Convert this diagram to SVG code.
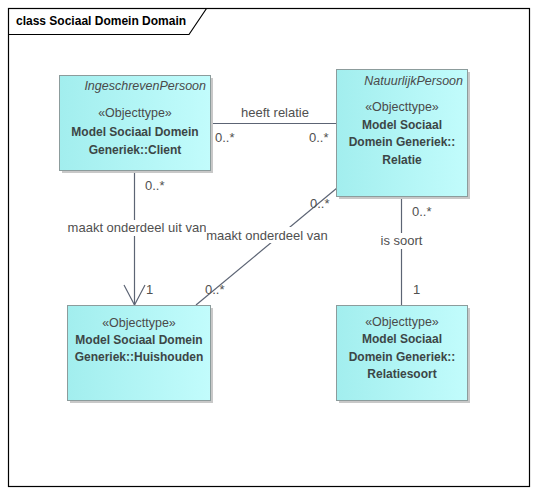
<svg xmlns="http://www.w3.org/2000/svg" width="537" height="495" viewBox="0 0 537 495">
<style>
text{font-family:"Liberation Sans","DejaVu Sans",sans-serif;font-size:12.5px;fill:#4a4a4a}
.b{font-weight:bold;font-size:12px;fill:#3c4646}
.i{font-style:italic;fill:#4a4a4a}
.m{text-anchor:middle}
.e{text-anchor:end}
.c{font-size:13px;fill:#505050}
.box{fill:url(#g);stroke:#8c9c9c;stroke-width:1}
.sh{fill:#c8c8c8}
.ln{stroke:#5c6474;stroke-width:1.2;fill:none}
.lbg{fill:#ffffff}
</style>
<defs>
<linearGradient id="g" x1="0" y1="0" x2="1" y2="0">
<stop offset="0" stop-color="#a2eeee"/>
<stop offset="1" stop-color="#c2fcfc"/>
</linearGradient>
</defs>
<rect width="537" height="495" fill="#ffffff"/>
<g id="frame">
<rect x="8.5" y="8.5" width="521" height="478" fill="none" stroke="#000" stroke-width="1.2"/>
<path d="M8.5 34.5 H189 L206.5 8.5" fill="none" stroke="#000" stroke-width="1.2"/>
<text x="16" y="25" style="font-weight:bold;font-size:12px;fill:#000">class Sociaal Domein Domain</text>
</g>
<g id="connectors">
<line class="ln" x1="210" y1="123.5" x2="336" y2="123.5"/>
<line class="ln" x1="134.5" y1="170" x2="134.5" y2="305"/>
<path class="ln" d="M124 285 L134.5 305 L145 285"/>
<line class="ln" x1="196" y1="305" x2="337" y2="188"/>
<line class="ln" x1="401.5" y1="196" x2="401.5" y2="305"/>
<text class="m c" x="275" y="117">heeft relatie</text>
<text class="c" x="215" y="142">0..*</text>
<text class="c" x="309" y="142">0..*</text>
<rect class="lbg" x="68" y="220" width="138" height="16"/>
<text class="m c" x="137" y="232">maakt onderdeel uit van</text>
<text class="c" x="145" y="190">0..*</text>
<text class="c" x="146" y="294">1</text>
<rect class="lbg" x="206" y="227" width="124" height="16"/>
<text class="m c" x="267" y="240">maakt onderdeel van</text>
<text class="c" x="310" y="208">0..*</text>
<text class="c" x="205" y="294">0..*</text>
<rect class="lbg" x="379" y="233" width="46" height="16"/>
<text class="m c" x="401.5" y="245">is soort</text>
<text class="c" x="412" y="216">0..*</text>
<text class="c" x="413" y="294">1</text>
</g>
<g id="client">
<rect class="sh" x="62" y="78" width="151" height="95"/>
<rect class="box" x="59.5" y="75.5" width="151" height="95"/>
<text class="i e" x="206" y="90">IngeschrevenPersoon</text>
<text class="m" x="135" y="117">«Objecttype»</text>
<text class="b m" x="135" y="136">Model Sociaal Domein</text>
<text class="b m" x="135" y="154">Generiek::Client</text>
</g>
<g id="relatie">
<rect class="sh" x="339" y="72" width="131" height="127"/>
<rect class="box" x="336.5" y="69.5" width="131" height="127"/>
<text class="i e" x="463" y="85">NatuurlijkPersoon</text>
<text class="m" x="402" y="111">«Objecttype»</text>
<text class="b m" x="402" y="129">Model Sociaal</text>
<text class="b m" x="402" y="146">Domein Generiek::</text>
<text class="b m" x="402" y="164">Relatie</text>
</g>
<g id="huishouden">
<rect class="sh" x="70" y="308" width="143" height="95"/>
<rect class="box" x="67.5" y="305.5" width="143" height="95"/>
<text class="m" x="139" y="327">«Objecttype»</text>
<text class="b m" x="139" y="344">Model Sociaal Domein</text>
<text class="b m" x="139" y="361">Generiek::Huishouden</text>
</g>
<g id="relatiesoort">
<rect class="sh" x="339" y="308" width="131" height="95"/>
<rect class="box" x="336.5" y="305.5" width="131" height="95"/>
<text class="m" x="402" y="326">«Objecttype»</text>
<text class="b m" x="402" y="343">Model Sociaal</text>
<text class="b m" x="402" y="361">Domein Generiek::</text>
<text class="b m" x="402" y="378">Relatiesoort</text>
</g>
</svg>
